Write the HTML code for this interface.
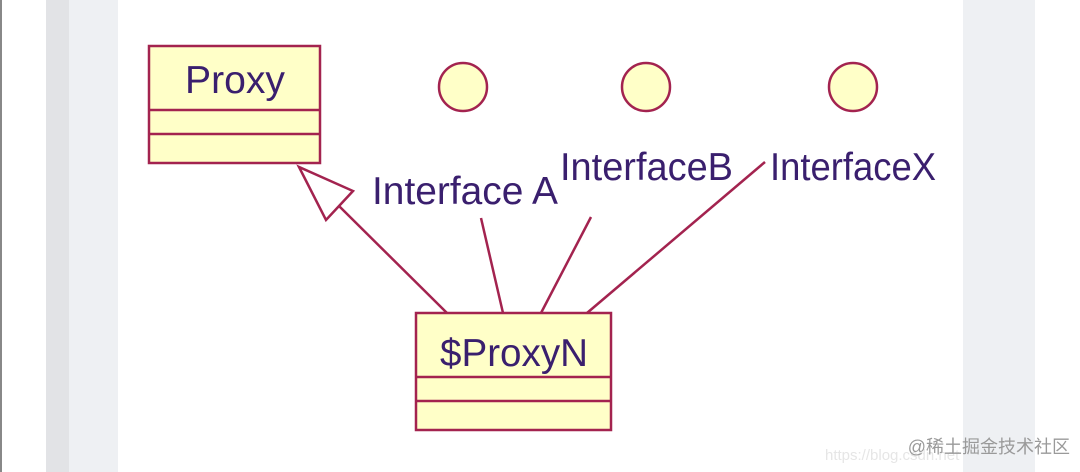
<!DOCTYPE html>
<html><head><style>
html,body{margin:0;padding:0;width:1080px;height:472px;overflow:hidden;background:#fff;}
</style></head><body>
<svg width="1080" height="472" xmlns="http://www.w3.org/2000/svg" style="position:absolute;left:0;top:0">
<rect x="0" y="0" width="2" height="472" fill="#888"/>
<rect x="46" y="0" width="23" height="472" fill="#e2e3e6"/>
<rect x="69" y="0" width="49" height="472" fill="#eef0f3"/>
<rect x="963" y="0" width="72" height="472" fill="#eef0f3"/>
<g stroke="#a3234f" stroke-width="2.5" fill="#ffffc8">
<rect x="149" y="46" width="171" height="117"/>
<line x1="149" y1="110" x2="320" y2="110"/>
<line x1="149" y1="134" x2="320" y2="134"/>
<rect x="416" y="313" width="195" height="117"/>
<line x1="416" y1="377" x2="611" y2="377"/>
<line x1="416" y1="401" x2="611" y2="401"/>
<circle cx="463" cy="87" r="24"/>
<circle cx="646" cy="87" r="24"/>
<circle cx="853" cy="87" r="24"/>
<polygon points="299,167 326,220 353,191" fill="#fff"/>
<line x1="339" y1="206" x2="447" y2="313"/>
<line x1="481" y1="218" x2="503" y2="313"/>
<line x1="591" y1="217" x2="541" y2="313"/>
<line x1="765" y1="162" x2="587" y2="313"/>
</g>
<g font-family="Liberation Sans, sans-serif" font-size="39" fill="#3a1f6e" lengthAdjust="spacingAndGlyphs">
<text x="185" y="93" textLength="100" lengthAdjust="spacingAndGlyphs">Proxy</text>
<text x="440" y="366" textLength="148" lengthAdjust="spacingAndGlyphs">$ProxyN</text>
<text x="372" y="204" textLength="186" lengthAdjust="spacingAndGlyphs">Interface A</text>
<text x="560" y="180" textLength="173" lengthAdjust="spacingAndGlyphs">InterfaceB</text>
<text x="770" y="180" textLength="166" lengthAdjust="spacingAndGlyphs">InterfaceX</text>
</g>
<text x="825" y="460" font-family="Liberation Sans, sans-serif" font-size="15" fill="#e6e6e6">https://blog.csdn.net</text>
<text x="1070" y="453" text-anchor="end" font-family="Liberation Sans, Noto Sans CJK SC, sans-serif" font-size="18" fill="#9a9a9a">@稀土掘金技术社区</text>
</svg>
</body></html>
